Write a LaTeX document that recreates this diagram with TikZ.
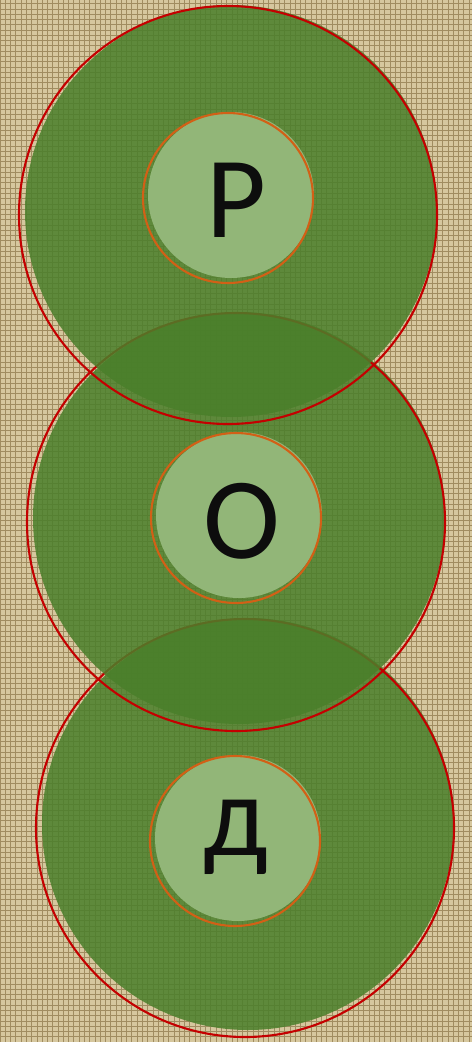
\documentclass[tikz,border=0pt]{standalone}
\usepackage{fontspec}
\setmainfont{Carlito}
\usetikzlibrary{patterns}

\definecolor{burlap}{RGB}{214,199,158}
\definecolor{weave}{RGB}{160,140,96}
\definecolor{leaf}{RGB}{74,127,42}
\definecolor{pale}{RGB}{146,182,120}
\definecolor{rim}{RGB}{196,0,0}
\definecolor{peel}{RGB}{210,96,22}
\definecolor{ink}{RGB}{13,13,13}

\tikzset{
    disc/.style={fill=leaf, fill opacity=0.85},
    discrim/.style={draw=rim, line width=1.2pt},
    core/.style={fill=pale},
    corerim/.style={draw=peel, line width=1.2pt},
    letter/.style={anchor=base, text=ink, font=\fontsize{66}{66}\selectfont, inner sep=0pt}
}

\begin{document}
\begin{tikzpicture}[x=0.02cm, y=-0.02cm]

    % Background
    \useasboundingbox (0,0) rectangle (472,1042);
    \fill[burlap] (0,0) rectangle (472,1042);
    \fill[pattern=grid, pattern color=weave] (0,0) rectangle (472,1042);

    % Centres of the big discs and of the small ones
    \coordinate (bigD) at (245,828);
    \coordinate (bigO) at (236,522);
    \coordinate (bigR) at (228,215);
    \coordinate (smallD) at (235,841);
    \coordinate (smallO) at (236,518);
    \coordinate (smallR) at (228,198);

    % Lowest disc first, so that the upper ones lie over it
    \fill[disc] ([shift={(3,-4)}]bigD) circle[radius=206];
    \draw[discrim] (bigD) circle[radius=209];
    \fill[core] ([shift={(3,-3)}]smallD) circle[radius=83];
    \draw[corerim] (smallD) circle[radius=85];
    \node[letter] (letD) at (236,855) {д};

    % Middle disc
    \fill[disc] ([shift={(3,-4)}]bigO) circle[radius=206];
    \draw[discrim] (bigO) circle[radius=209];
    \fill[core] ([shift={(3,-3)}]smallO) circle[radius=83];
    \draw[corerim] (smallO) circle[radius=85];
    \node[letter] (letO) at (242,558) {О};

    % Top disc
    \fill[disc] ([shift={(3,-4)}]bigR) circle[radius=206];
    \draw[discrim] (bigR) circle[radius=209];
    \fill[core] ([shift={(3,-3)}]smallR) circle[radius=83];
    \draw[corerim] (smallR) circle[radius=85];
    \node[letter] (letR) at (236,237) {Р};

\end{tikzpicture}
\end{document}
